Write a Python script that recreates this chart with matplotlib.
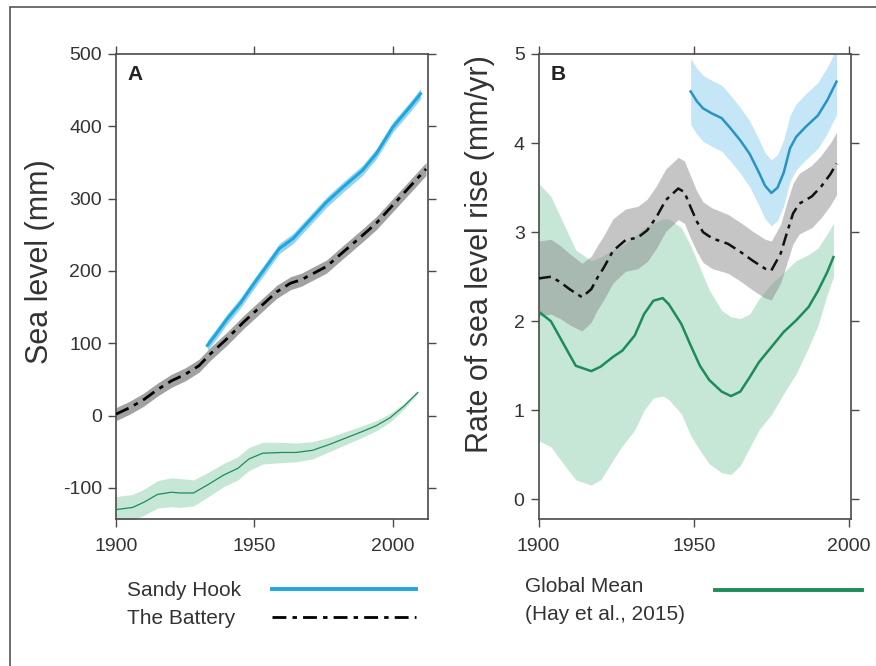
import matplotlib
matplotlib.use("Agg")
import matplotlib.pyplot as plt
import numpy as np
from matplotlib.lines import Line2D
from matplotlib.patches import Rectangle

plt.rcParams['font.family'] = ['Liberation Sans', 'DejaVu Sans']
plt.rcParams['axes.unicode_minus'] = False

# ---------------- Panel A: sea level (mm) ----------------
sh_years_a = [1933, 1936, 1940, 1945, 1949, 1952, 1956, 1959, 1964, 1970, 1976, 1982, 1989, 1994, 2000, 2006, 2010]
sh_level = [97, 112, 133, 156, 178, 194, 215, 231, 245, 270, 295, 316, 339, 362, 399, 426, 445]
sh_level_err = [7] * len(sh_level)

bat_years_a = [1900, 1905, 1910, 1915, 1920, 1925, 1930, 1934, 1940, 1946, 1952, 1958, 1963, 1967,
               1970, 1976, 1982, 1989, 1994, 2000, 2006, 2012]
bat_level = [2, 11, 22, 36, 48, 57, 69, 85, 106, 129, 150, 171, 183, 188,
             194, 206, 226, 249, 266, 291, 316, 341]
bat_level_err = [9] * len(bat_level)

gm_years_a = [1900, 1906, 1910, 1915, 1920, 1923, 1928, 1933, 1939, 1944, 1948, 1953, 1960, 1965,
              1971, 1977, 1983, 1989, 1994, 1999, 2004, 2009]
gm_level = [-130, -127, -120, -109, -106, -107, -107, -96, -82, -73, -60, -52, -51, -51,
            -48, -40, -31, -22, -14, -3, 13, 32]
gm_level_err = [18, 18, 18, 19, 20, 20, 18, 17, 16, 16, 16, 15, 14, 13,
                12, 10, 9, 8, 7, 6, 4, 2]

# ---------------- Panel B: rate (mm/yr) ----------------
sh_years_b = [1949, 1951, 1953, 1956, 1959, 1962, 1965, 1968, 1971, 1973, 1975, 1977, 1979, 1981,
              1983, 1986, 1990, 1993, 1996]
sh_rate = [4.58, 4.47, 4.39, 4.33, 4.28, 4.16, 4.03, 3.88, 3.67, 3.52, 3.44, 3.50, 3.67, 3.94,
           4.07, 4.18, 4.31, 4.48, 4.69]
sh_rate_err = [0.37] * len(sh_rate)

bat_years_b = [1900, 1904, 1907, 1910, 1914, 1917, 1919, 1921, 1924, 1928, 1932, 1935, 1938, 1941,
               1945, 1947, 1949, 1951, 1953, 1956, 1961, 1965, 1969, 1973, 1975, 1978, 1980, 1982,
               1984, 1988, 1991, 1994, 1996]
bat_rate = [2.48, 2.50, 2.44, 2.36, 2.27, 2.36, 2.49, 2.60, 2.79, 2.91, 2.94, 3.02, 3.17, 3.36,
            3.49, 3.45, 3.28, 3.12, 3.00, 2.93, 2.87, 2.78, 2.68, 2.59, 2.57, 2.76, 2.99, 3.21,
            3.32, 3.40, 3.51, 3.65, 3.77]
bat_rate_err = [0.42, 0.42, 0.41, 0.40, 0.38, 0.37, 0.36, 0.36, 0.36, 0.35, 0.35, 0.35, 0.35, 0.35,
                0.35, 0.35, 0.35, 0.34, 0.34, 0.34, 0.33, 0.33, 0.33, 0.33, 0.33, 0.33, 0.34, 0.34,
                0.34, 0.35, 0.35, 0.35, 0.35]

gm_years_b = [1900, 1904, 1908, 1912, 1917, 1920, 1924, 1927, 1931, 1934, 1937, 1940, 1942, 1946,
              1949, 1952, 1955, 1959, 1962, 1965, 1968, 1971, 1975, 1979, 1983, 1987, 1990, 1993, 1995]
gm_rate = [2.11, 2.00, 1.75, 1.50, 1.44, 1.49, 1.60, 1.67, 1.84, 2.08, 2.23, 2.26, 2.19, 1.97,
           1.73, 1.50, 1.34, 1.21, 1.16, 1.21, 1.37, 1.54, 1.71, 1.88, 2.01, 2.16, 2.34, 2.55, 2.72]
gm_rate_low = [0.66, 0.59, 0.40, 0.22, 0.16, 0.22, 0.44, 0.60, 0.78, 1.00, 1.14, 1.16, 1.12, 0.96,
               0.72, 0.55, 0.40, 0.30, 0.28, 0.38, 0.58, 0.78, 0.95, 1.19, 1.41, 1.71, 1.95, 2.30, 2.50]
gm_rate_high = [3.55, 3.40, 3.10, 2.80, 2.68, 2.72, 2.80, 2.85, 2.95, 3.05, 3.10, 3.15, 3.15, 3.05,
                2.85, 2.60, 2.35, 2.12, 2.05, 2.03, 2.08, 2.25, 2.42, 2.55, 2.68, 2.75, 2.82, 2.98, 3.10]

x_ticks = [1900, 1950, 2000]
yticks_a = [-100, 0, 100, 200, 300, 400, 500]
yticks_b = [0, 1, 2, 3, 4, 5]

legend_a_labels = ['Sandy Hook', 'The Battery']
legend_b_labels = ['Global Mean', '(Hay et al., 2015)']

# colours
BLUE_A = '#1ea6df'
BLUE_A_BAND = '#93d3f0'
BLUE_B = '#2a93c6'
BLUE_B_BAND = '#c4e6f7'
GREEN = '#1e8c57'
GREEN_BAND = '#c6e7d6'
SPINE = '#4a4a4a'
TXT = '#333333'

W, H = 876, 666
fig = plt.figure(figsize=(W / 100, H / 100), dpi=100)
fig.patch.set_facecolor('white')

axA = fig.add_axes([116 / W, 1 - 519 / H, 312 / W, 465 / H])
axB = fig.add_axes([538.5 / W, 1 - 519 / H, 312 / W, 465 / H])

dash = (0, (5, 2.2, 1.6, 2.2))

def arr(v):
    return np.asarray(v, dtype=float)

# Panel A
axA.fill_between(gm_years_a, arr(gm_level) - arr(gm_level_err), arr(gm_level) + arr(gm_level_err),
                 color=GREEN_BAND, lw=0, zorder=1)
axA.plot(gm_years_a, gm_level, color=GREEN, lw=0.9, zorder=3)
axA.fill_between(bat_years_a, arr(bat_level) - arr(bat_level_err), arr(bat_level) + arr(bat_level_err),
                 color='#7a7a7a', alpha=0.7, lw=0, zorder=2)
axA.plot(bat_years_a, bat_level, color='black', lw=2.0, linestyle=dash, zorder=4)
axA.fill_between(sh_years_a, arr(sh_level) - arr(sh_level_err), arr(sh_level) + arr(sh_level_err),
                 color=BLUE_A_BAND, lw=0, zorder=2)
axA.plot(sh_years_a, sh_level, color=BLUE_A, lw=2.2, zorder=4)

axA.set_xlim(1900, 2012.7)
axA.set_ylim(-143, 500)
axA.set_yticks(yticks_a)
axA.set_xticks(x_ticks)
axA.set_ylabel('Sea level (mm)', fontsize=22, color=TXT)
axA.yaxis.set_label_coords(-0.195, (519 - 262) / 465)
axA.text(0.038, 0.976, 'A', transform=axA.transAxes, fontsize=15, fontweight='bold',
         va='top', ha='left', color='#222222')

# Panel B
axB.fill_between(gm_years_b, gm_rate_low, gm_rate_high, color=GREEN_BAND, lw=0, zorder=1)
axB.fill_between(bat_years_b, arr(bat_rate) - arr(bat_rate_err), arr(bat_rate) + arr(bat_rate_err),
                 color='#878787', alpha=0.48, lw=0, zorder=2)
axB.fill_between(sh_years_b, arr(sh_rate) - arr(sh_rate_err), arr(sh_rate) + arr(sh_rate_err),
                 color=BLUE_B_BAND, lw=0, zorder=2)
axB.plot(gm_years_b, gm_rate, color=GREEN, lw=1.8, zorder=4)
axB.plot(bat_years_b, bat_rate, color='#111111', lw=1.8, linestyle=dash, zorder=4)
axB.plot(sh_years_b, sh_rate, color=BLUE_B, lw=1.8, zorder=4)

axB.set_xlim(1900, 2000.5)
axB.set_ylim(-0.22, 5.0)
axB.set_yticks(yticks_b)
axB.set_xticks(x_ticks)
axB.set_ylabel('Rate of sea level rise (mm/yr)', fontsize=22, color=TXT)
axB.yaxis.set_label_coords(-0.14, (519 - 254) / 465)
axB.text(0.039, 0.976, 'B', transform=axB.transAxes, fontsize=15, fontweight='bold',
         va='top', ha='left', color='#222222')

for ax in (axA, axB):
    for sp in ax.spines.values():
        sp.set_color(SPINE)
        sp.set_linewidth(1.2)
    ax.tick_params(direction='out', length=6, width=1.0, color=SPINE, labelsize=14,
                   labelcolor=TXT, top=True, right=True)
    ax.tick_params(axis='x', pad=8)
    ax.tick_params(axis='y', pad=4)

# Legends: text column and handle column as separate legends so text is left-aligned
leg_font = {'size': 15}
common = dict(loc='upper left', frameon=False, borderpad=0, borderaxespad=0,
              labelspacing=0.45, prop=leg_font)

def text_legend(labels, x, y):
    hs = [Line2D([], [], color='none', lw=0) for _ in labels]
    lg = fig.legend(hs, labels, bbox_to_anchor=(x / W, 1 - y / H),
                    handlelength=0, handletextpad=0, **common)
    for t in lg.get_texts():
        t.set_color(TXT)
    return lg

def handle_legend(handles, x, y, length_px):
    lg = fig.legend(handles, [' '] * len(handles), bbox_to_anchor=(x / W, 1 - y / H),
                    handlelength=length_px / (15 * 100 / 72), handletextpad=0, **common)
    return lg

text_legend(legend_a_labels, 127, 581)
handle_legend([Line2D([], [], color=BLUE_A, lw=2.8),
               Line2D([], [], color='black', lw=2.0, linestyle=dash)], 272, 581, 144)
text_legend(legend_b_labels, 525, 577)
handle_legend([Line2D([], [], color=GREEN, lw=2.8)], 715, 582, 147)

# outer frame
frame = Rectangle((10 / W, -0.05), 1.2, (1 - 7 / H) + 0.05, transform=fig.transFigure,
                  fill=False, edgecolor='#555555', lw=1.2, clip_on=False)
fig.add_artist(frame)

fig.savefig('out.png', dpi=100)
